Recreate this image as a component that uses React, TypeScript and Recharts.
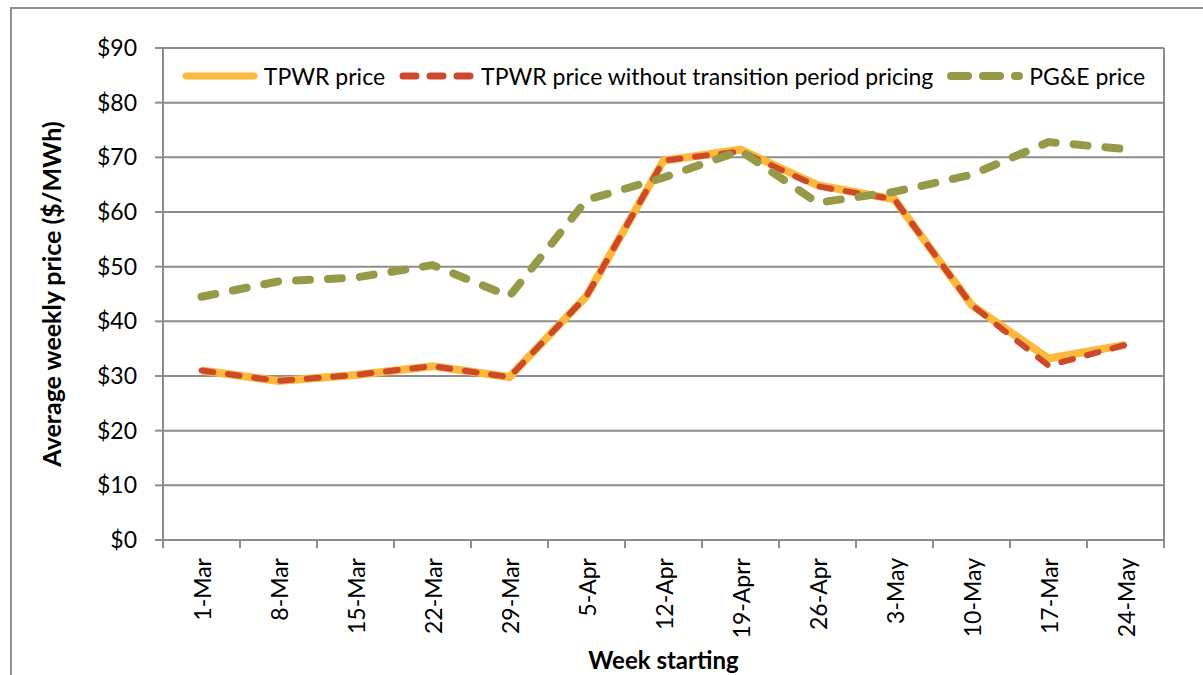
import React from "react";
import {
  LineChart,
  Line,
  XAxis,
  YAxis,
  CartesianGrid,
  ReferenceLine,
} from "recharts";

const weeks = [
  "1-Mar", "8-Mar", "15-Mar", "22-Mar", "29-Mar", "5-Apr", "12-Apr",
  "19-Aprr", "26-Apr", "3-May", "10-May", "17-Mar", "24-May",
];
const tpwrPrice = [31.0, 29.1, 30.2, 31.8, 29.8, 44.6, 69.4, 71.4, 64.9, 62.3, 43.0, 33.2, 35.7];
const tpwrNoTransition = [31.0, 29.1, 30.2, 31.8, 29.8, 44.6, 69.4, 71.1, 64.7, 62.3, 43.0, 31.9, 35.7];
const pgePrice = [44.5, 47.3, 48.0, 50.3, 44.6, 62.2, 66.3, 71.2, 61.7, 63.7, 66.8, 72.8, 71.5];
const yTicks = [0, 10, 20, 30, 40, 50, 60, 70, 80, 90];

const FONT = "Lato, 'Open Sans', sans-serif";
const GRID = "#8c8c8c";
const ORANGE = "#fdb93c";
const RED = "#cc4a2b";
const GREEN = "#969a48";
const RED_DASH = "12 14.5";
const GREEN_DASH = "14 18";

// points sit in the middle of each weekly band, band edges are whole numbers
const chartData = weeks.map((w, i) => ({
  pos: i + 0.5,
  week: w,
  tpwr: tpwrPrice[i],
  noTransition: tpwrNoTransition[i],
  pge: pgePrice[i],
}));
const xTicks: number[] = [];
for (let i = 0; i <= weeks.length * 2; i++) xTicks.push(i / 2);

function WeekTick(props: any) {
  const { x, y, payload } = props;
  const v = payload.value as number;
  if (Number.isInteger(v)) {
    return <line x1={x} y1={y - 8} x2={x} y2={y} stroke={GRID} strokeWidth={2} />;
  }
  const label = weeks[Math.floor(v)];
  return (
    <text
      x={x}
      y={y + 10}
      transform={`rotate(-90, ${x}, ${y + 10})`}
      textAnchor="end"
      dominantBaseline="central"
      fontFamily={FONT}
      fontSize={23}
      fill="#000"
    >
      {label}
    </text>
  );
}

function LegendSample({ color, width, dash }: { color: string; width: number; dash?: string }) {
  return (
    <svg width={76} height={14} style={{ display: "block" }}>
      <line
        x1={4}
        y1={7}
        x2={72}
        y2={7}
        stroke={color}
        strokeWidth={width}
        strokeDasharray={dash}
        strokeLinecap="round"
      />
    </svg>
  );
}

function ChartLegend() {
  const items = [
    { label: "TPWR price", color: ORANGE, width: 7, dash: undefined },
    { label: "TPWR price without transition period pricing", color: RED, width: 7, dash: "13 14" },
    { label: "PG&E price", color: GREEN, width: 8, dash: "17 15" },
  ];
  return (
    <div
      style={{
        position: "absolute",
        left: 163,
        top: 61,
        width: 1001,
        height: 30,
        display: "flex",
        justifyContent: "center",
        alignItems: "center",
        fontFamily: FONT,
        fontSize: 23,
        color: "#000",
        gap: 14,
        whiteSpace: "nowrap",
      }}
    >
      {items.map((it) => (
        <div key={it.label} style={{ display: "flex", alignItems: "center", gap: 6 }}>
          <LegendSample color={it.color} width={it.width} dash={it.dash} />
          <span>{it.label}</span>
        </div>
      ))}
    </div>
  );
}

export default function App() {
  return (
    <div
      style={{
        position: "absolute",
        left: 0,
        top: 0,
        width: 1203,
        height: 675,
        overflow: "hidden",
        background: "#fff",
      }}
    >
      {/* outer chart frame, cut off on the right and bottom */}
      <div
        style={{
          position: "absolute",
          left: 10,
          top: 7,
          width: 1400,
          height: 900,
          border: "2px solid #8f8f8f",
        }}
      />
      <LineChart
        width={1203}
        height={675}
        data={chartData}
        margin={{ top: 48, right: 39, bottom: 0, left: 0 }}
      >
        <CartesianGrid vertical={false} stroke={GRID} strokeWidth={2} />
        <XAxis
          dataKey="pos"
          type="number"
          domain={[0, weeks.length]}
          ticks={xTicks}
          interval={0}
          height={135}
          tickLine={false}
          axisLine={{ stroke: GRID, strokeWidth: 2 }}
          tick={<WeekTick />}
          label={{
            value: "Week starting",
            position: "insideBottom",
            offset: 6,
            style: { fontFamily: FONT, fontSize: 24, fontWeight: 700, fill: "#000" },
          }}
        />
        <YAxis
          domain={[0, 90]}
          ticks={yTicks}
          width={163}
          tickSize={8}
          tickMargin={18}
          tickFormatter={(v: number) => `$${v}`}
          tickLine={{ stroke: GRID, strokeWidth: 2 }}
          axisLine={{ stroke: GRID, strokeWidth: 2 }}
          tick={{ fontFamily: FONT, fontSize: 23, fill: "#000" }}
          label={{
            value: "Average weekly price ($/MWh)",
            angle: -90,
            position: "insideLeft",
            offset: 52,
            style: {
              fontFamily: FONT,
              fontSize: 25,
              fontWeight: 700,
              fill: "#000",
              textAnchor: "middle",
            },
          }}
        />
        <ReferenceLine x={weeks.length} stroke={GRID} strokeWidth={2} />
        <Line
          dataKey="tpwr"
          stroke={ORANGE}
          strokeWidth={8}
          dot={false}
          isAnimationActive={false}
        />
        <Line
          dataKey="noTransition"
          stroke={RED}
          strokeWidth={6}
          strokeDasharray={RED_DASH}
          strokeLinecap="round"
          dot={false}
          isAnimationActive={false}
        />
        <Line
          dataKey="pge"
          stroke={GREEN}
          strokeWidth={8}
          strokeDasharray={GREEN_DASH}
          strokeLinecap="round"
          dot={false}
          isAnimationActive={false}
        />
      </LineChart>
      <ChartLegend />
    </div>
  );
}
